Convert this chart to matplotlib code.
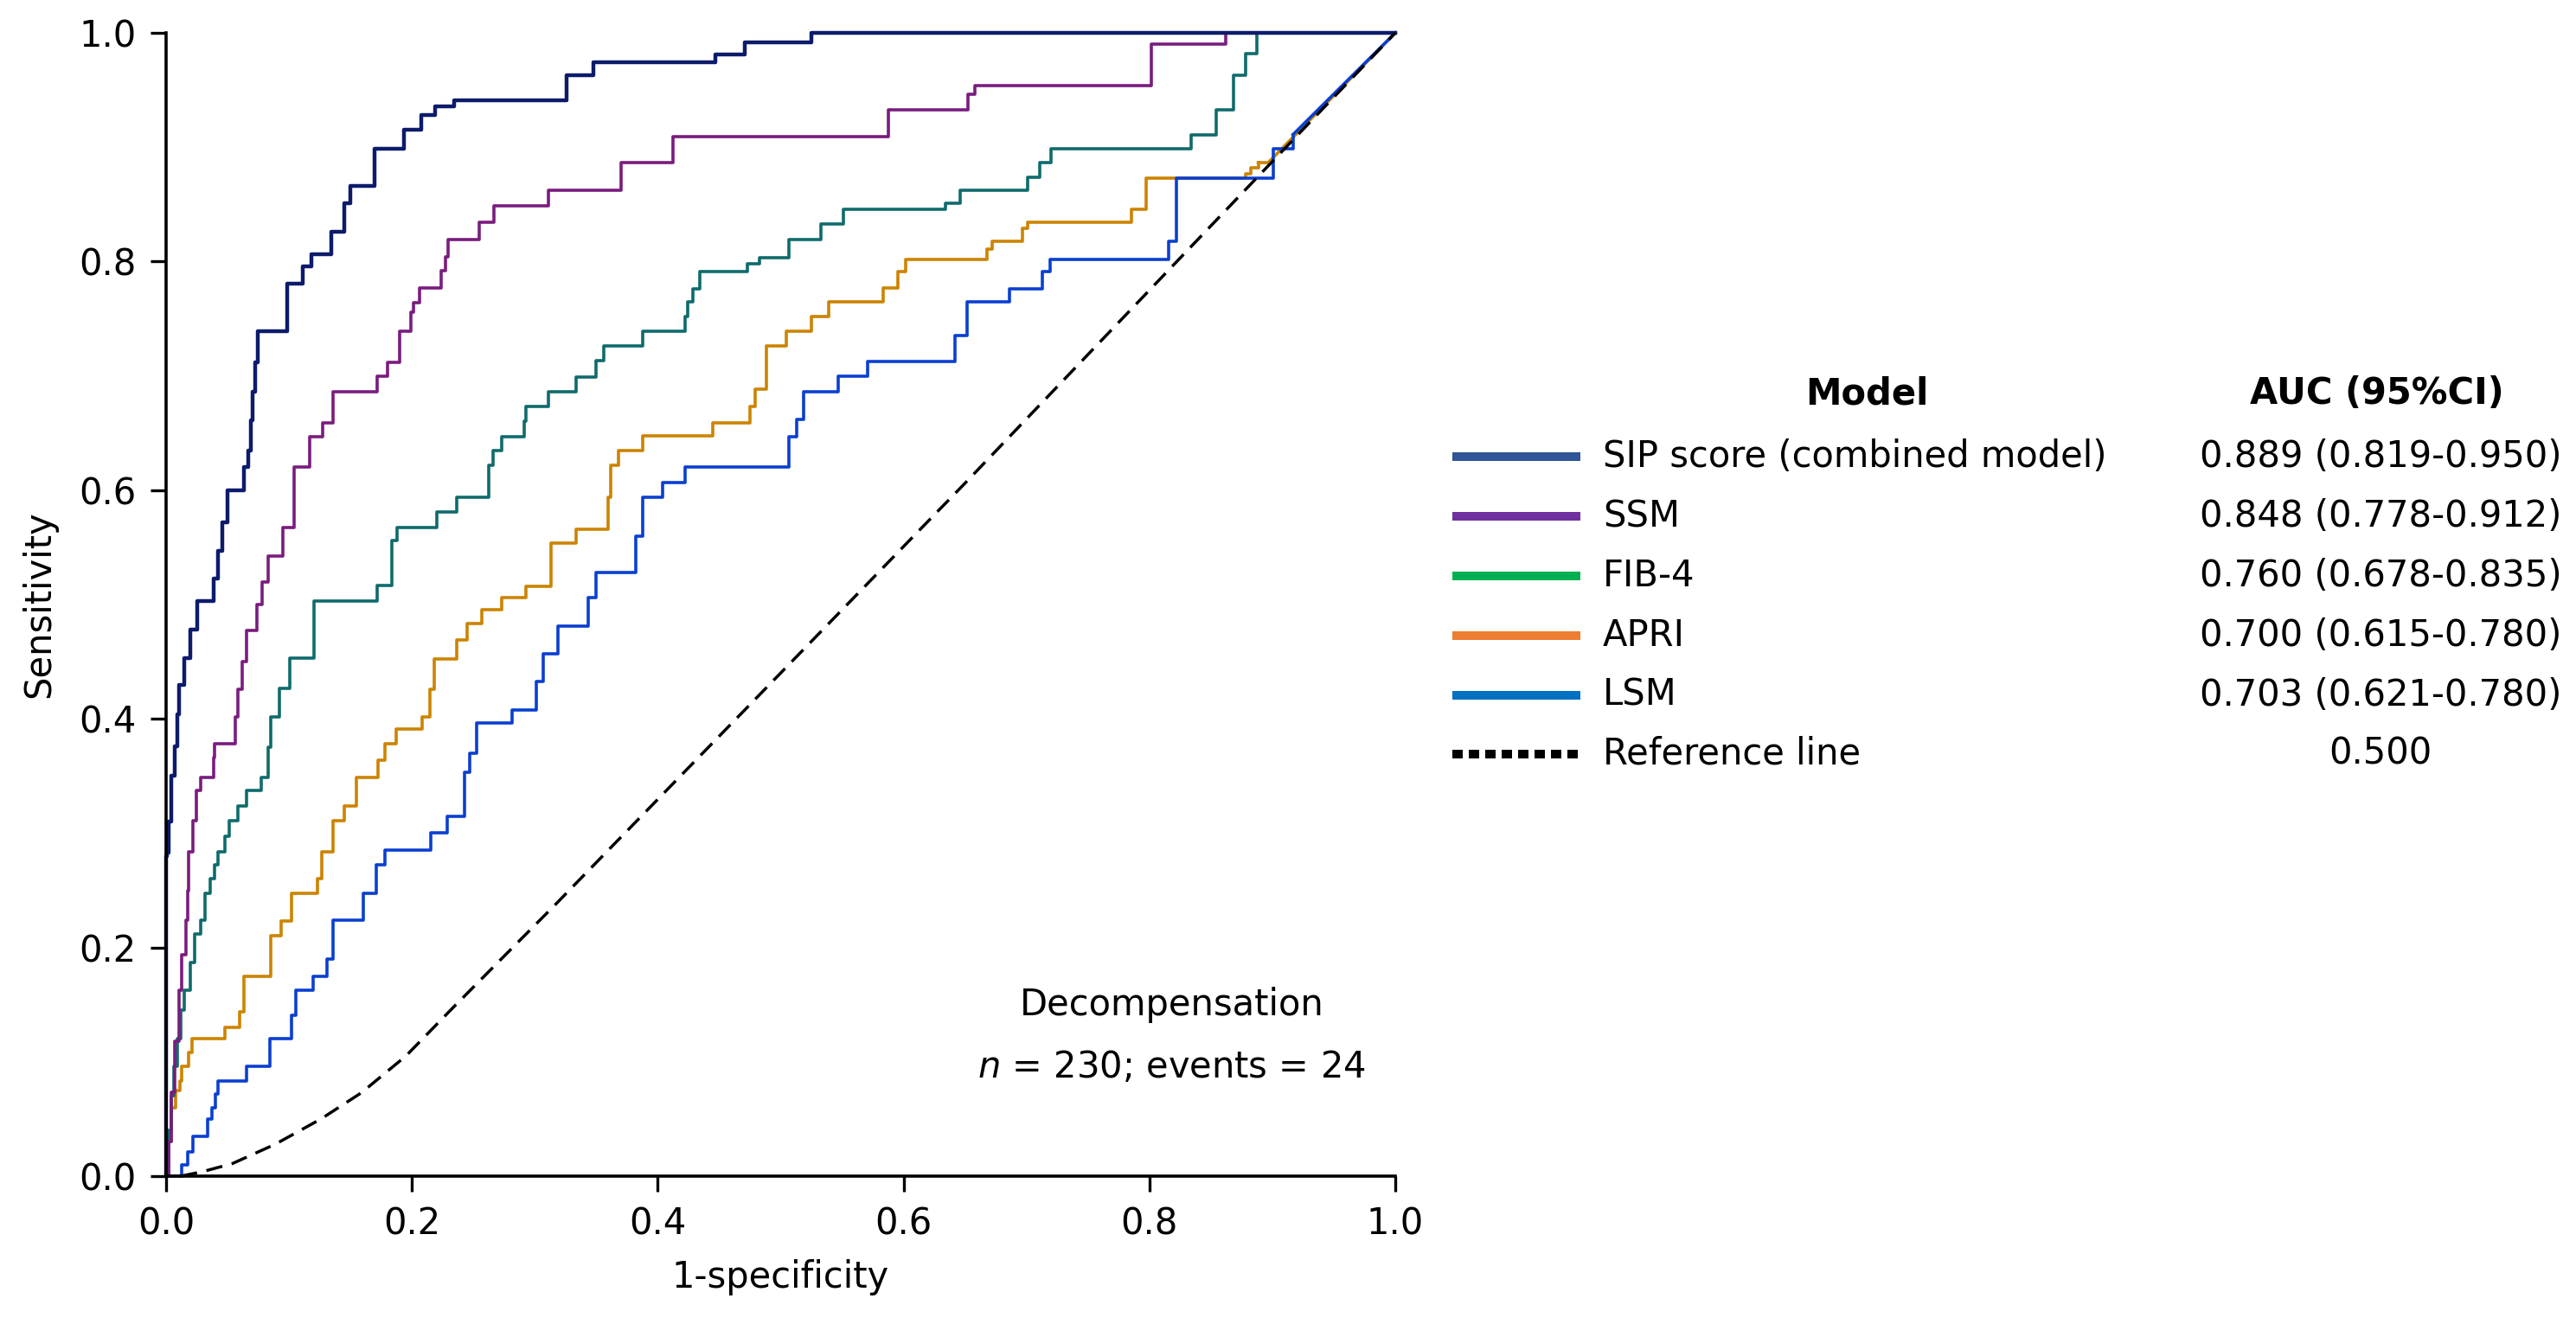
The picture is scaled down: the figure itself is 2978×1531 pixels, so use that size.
import matplotlib
matplotlib.use('Agg')
import matplotlib.pyplot as plt
from matplotlib.lines import Line2D

plt.rcParams['font.family'] = ['DejaVu Sans']
plt.rcParams['mathtext.fontset'] = 'dejavusans'

# ROC step points: (1-specificity at the jump, sensitivity after the jump)
sip_fpr = [0.0, 0.0, 0.001, 0.002, 0.0045, 0.0068, 0.0091, 0.0103, 0.015, 0.0197, 0.0256, 0.0385, 0.042, 0.0455,
           0.0502, 0.0631, 0.0666, 0.069, 0.0701, 0.0725, 0.0748, 0.0983, 0.1112, 0.1182, 0.1346, 0.1452, 0.1499,
           0.1698, 0.1933, 0.2073, 0.2191, 0.2345, 0.3255, 0.3477, 0.4467, 0.4709, 0.525, 1.0]
sip_tpr = [0.0, 0.28, 0.283, 0.31, 0.35, 0.376, 0.404, 0.43, 0.453, 0.478, 0.503, 0.523, 0.547, 0.572,
           0.600, 0.620, 0.635, 0.661, 0.686, 0.712, 0.739, 0.781, 0.796, 0.806, 0.826, 0.851, 0.866,
           0.899, 0.915, 0.928, 0.936, 0.941, 0.963, 0.974, 0.981, 0.992, 1.0, 1.0]

ssm_fpr = [0.0, 0.002, 0.0045, 0.0068, 0.0103, 0.0127, 0.016, 0.0175, 0.0185, 0.022, 0.0244, 0.028, 0.0385,
           0.0397, 0.056, 0.0584, 0.0619, 0.0654, 0.0737, 0.078, 0.083, 0.0948, 0.1041, 0.1171, 0.1276, 0.1358,
           0.172, 0.1804, 0.1898, 0.1991, 0.2015, 0.206, 0.2238, 0.2273, 0.2296, 0.2547, 0.2669, 0.3113, 0.37,
           0.4123, 0.5875, 0.6522, 0.6582, 0.8017, 0.8624, 1.0]
ssm_tpr = [0.0, 0.03, 0.073, 0.118, 0.163, 0.194, 0.224, 0.25, 0.284, 0.311, 0.337, 0.349, 0.366,
           0.378, 0.402, 0.426, 0.450, 0.477, 0.50, 0.52, 0.542, 0.567, 0.620, 0.647, 0.659, 0.686,
           0.700, 0.712, 0.739, 0.756, 0.764, 0.777, 0.792, 0.804, 0.819, 0.834, 0.849, 0.862, 0.8865,
           0.9096, 0.9326, 0.946, 0.9535, 0.990, 1.0, 1.0]

fib_fpr = [0.0, 0.002, 0.004, 0.006, 0.009, 0.012, 0.015, 0.0197, 0.0232, 0.028, 0.0314, 0.0361, 0.0397,
           0.042, 0.0478, 0.0514, 0.0584, 0.0654, 0.0772, 0.083, 0.0854, 0.0924, 0.1006, 0.1206, 0.1719,
           0.184, 0.188, 0.2204, 0.2366, 0.2628, 0.266, 0.2729, 0.291, 0.293, 0.3113, 0.3335, 0.3497,
           0.3558, 0.388, 0.4224, 0.4244, 0.4285, 0.4345, 0.4729, 0.483, 0.5067, 0.5327, 0.551, 0.6339,
           0.646, 0.7006, 0.711, 0.7196, 0.834, 0.8542, 0.8683, 0.8784, 0.8877, 1.0]
fib_tpr = [0.0, 0.04, 0.07, 0.096, 0.12, 0.145, 0.163, 0.187, 0.212, 0.224, 0.247, 0.260, 0.272,
           0.284, 0.2975, 0.311, 0.324, 0.337, 0.349, 0.375, 0.402, 0.427, 0.453, 0.503, 0.517,
           0.556, 0.567, 0.581, 0.594, 0.622, 0.635, 0.647, 0.66, 0.673, 0.686, 0.699, 0.7135,
           0.726, 0.739, 0.752, 0.765, 0.776, 0.791, 0.798, 0.803, 0.819, 0.833, 0.846, 0.851,
           0.862, 0.874, 0.8865, 0.8985, 0.911, 0.933, 0.963, 0.982, 1.0, 1.0]

apri_fpr = [0.0, 0.002, 0.004, 0.008, 0.0115, 0.0127, 0.0185, 0.021, 0.0478, 0.0595, 0.0631, 0.0854, 0.0936,
            0.1018, 0.1229, 0.1264, 0.1358, 0.1452, 0.1546, 0.1722, 0.178, 0.1874, 0.208, 0.2144, 0.2179,
            0.2366, 0.2446, 0.257, 0.273, 0.2931, 0.3133, 0.3335, 0.3598, 0.3618, 0.3679, 0.388, 0.4446,
            0.4749, 0.479, 0.4885, 0.5047, 0.525, 0.539, 0.5835, 0.5955, 0.6017, 0.668, 0.6724, 0.6966,
            0.7006, 0.7855, 0.7976, 0.8784, 0.8824, 0.8885]
apri_tpr = [0.0, 0.03, 0.06, 0.075, 0.083, 0.096, 0.108, 0.12, 0.13, 0.144, 0.175, 0.2105, 0.223,
            0.247, 0.26, 0.284, 0.311, 0.324, 0.349, 0.364, 0.378, 0.391, 0.402, 0.426, 0.452,
            0.469, 0.483, 0.4955, 0.506, 0.516, 0.554, 0.566, 0.594, 0.622, 0.6345, 0.6474, 0.659,
            0.673, 0.688, 0.726, 0.739, 0.752, 0.765, 0.7765, 0.791, 0.802, 0.8106, 0.818, 0.829,
            0.834, 0.8454, 0.873, 0.877, 0.882, 0.8865]
apri_tail_fpr = [0.8885, 0.8966, 1.0]
apri_tail_tpr = [0.8865, 0.8865, 1.0]

lsm_fpr = [0.0, 0.0115, 0.0127, 0.0174, 0.022, 0.0338, 0.037, 0.040, 0.042, 0.0657, 0.0842, 0.1018, 0.1053,
           0.1194, 0.131, 0.1358, 0.1604, 0.171, 0.178, 0.2155, 0.2285, 0.2426, 0.247, 0.2527, 0.2812,
           0.3012, 0.307, 0.319, 0.3436, 0.3497, 0.382, 0.388, 0.404, 0.4224, 0.507, 0.513, 0.519, 0.547,
           0.571, 0.642, 0.652, 0.686, 0.713, 0.719, 0.8158, 0.822, 0.9006, 0.9168]
lsm_tpr = [0.0, 0.0, 0.010, 0.021, 0.035, 0.05, 0.06, 0.072, 0.083, 0.096, 0.12, 0.141, 0.163,
           0.175, 0.19, 0.224, 0.247, 0.272, 0.285, 0.30, 0.315, 0.353, 0.37, 0.396, 0.408,
           0.433, 0.457, 0.481, 0.506, 0.528, 0.56, 0.594, 0.607, 0.62, 0.647, 0.662, 0.686, 0.70,
           0.7125, 0.735, 0.765, 0.776, 0.791, 0.802, 0.818, 0.873, 0.8985, 0.911]
lsm_tail_fpr = [0.9168, 1.0]
lsm_tail_tpr = [0.911, 1.0]

ref_fpr = [0.012, 0.03, 0.054, 0.089, 0.126, 0.159, 0.195, 0.234, 0.3153, 0.49, 0.649, 1.0]
ref_tpr = [0.0, 0.004, 0.011, 0.028, 0.050, 0.073, 0.105, 0.148, 0.236, 0.429, 0.605, 1.0]

models = ['SIP score (combined model)', 'SSM', 'FIB-4', 'APRI', 'LSM', 'Reference line']
auc_text = ['0.889 (0.819-0.950)', '0.848 (0.778-0.912)', '0.760 (0.678-0.835)',
            '0.700 (0.615-0.780)', '0.703 (0.621-0.780)', '0.500']
legend_colors = ['#2f5597', '#7030a0', '#00b050', '#ed7d31', '#0070c0', 'black']

W, H = 2978, 1531
FS = 30

fig = plt.figure(figsize=(W / 100, H / 100), dpi=100)
ax = fig.add_axes([192 / W, 1 - 1360 / H, 1421 / W, 1322 / H])

lw = 2.6
ax.plot(apri_fpr, apri_tpr, drawstyle='steps-post', color='#cc8400', lw=lw, clip_on=False, zorder=2)
ax.plot(apri_tail_fpr, apri_tail_tpr, color='#cc8400', lw=lw, clip_on=False, zorder=2)
ax.plot(lsm_fpr, lsm_tpr, drawstyle='steps-post', color='#0a3fd0', lw=lw, clip_on=False, zorder=2)
ax.plot(lsm_tail_fpr, lsm_tail_tpr, color='#0a3fd0', lw=lw, clip_on=False, zorder=2)
ax.plot(fib_fpr, fib_tpr, drawstyle='steps-post', color='#0f6b6b', lw=lw, clip_on=False, zorder=2)
ax.plot(ssm_fpr, ssm_tpr, drawstyle='steps-post', color='#7a1c7e', lw=lw, clip_on=False, zorder=2)
ax.plot(sip_fpr, sip_tpr, drawstyle='steps-post', color='#0d1b6b', lw=3.2, clip_on=False, zorder=2)
ax.plot(ref_fpr, ref_tpr, color='black', lw=2.5, linestyle=(0, (5.5, 3.2)), clip_on=False, zorder=3)

ax.set_xlim(0, 1)
ax.set_ylim(0, 1)
ax.set_xticks([0, 0.2, 0.4, 0.6, 0.8, 1.0])
ax.set_yticks([0, 0.2, 0.4, 0.6, 0.8, 1.0])
ax.spines['top'].set_visible(False)
ax.spines['right'].set_visible(False)
for s in ['left', 'bottom']:
    ax.spines[s].set_linewidth(2.6)
ax.tick_params(axis='both', direction='out', length=13, width=2.4, labelsize=FS, pad=12)
ax.set_xlabel('1-specificity', fontsize=FS, labelpad=14)
ax.set_ylabel('Sensitivity', fontsize=FS, labelpad=18)

ax.text(0.818, 0.150, 'Decompensation', fontsize=FS, ha='center', va='center')
ax.text(0.818, 0.095, '$n$ = 230; events = 24', fontsize=FS, ha='center', va='center')

# legend table drawn by hand
fig.text(2158 / W, 1 - 455 / H, 'Model', fontsize=FS, fontweight='bold', ha='center', va='center')
fig.text(2748 / W, 1 - 455 / H, 'AUC (95%CI)', fontsize=FS, fontweight='bold', ha='center', va='center')
row_y = [528, 597, 666, 735, 804, 872]
for name, auc, col, y in zip(models, auc_text, legend_colors, row_y):
    yf = 1 - y / H
    ls = (0, (1.2, 0.7)) if name == 'Reference line' else '-'
    fig.add_artist(Line2D([1679 / W, 1827 / W], [yf, yf], transform=fig.transFigure,
                          color=col, lw=7.2, linestyle=ls, solid_capstyle='butt', dash_capstyle='butt'))
    fig.text(1853 / W, yf, name, fontsize=FS, ha='left', va='center')
    fig.text(2752 / W, yf, auc, fontsize=FS, ha='center', va='center')

fig.savefig('out.png', dpi=100, facecolor='white')
